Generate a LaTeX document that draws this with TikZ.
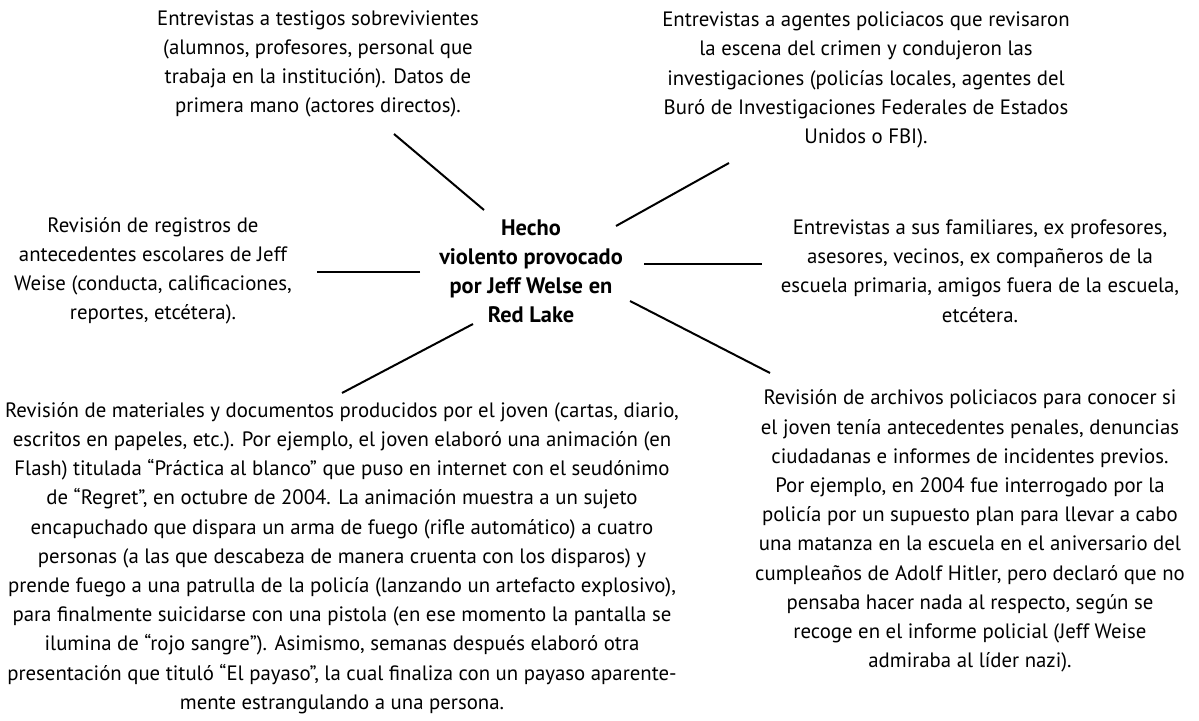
\documentclass[tikz,border=0pt]{standalone}
\usepackage{fontspec}
\setmainfont{PT Sans}
\usetikzlibrary{positioning,calc}

\begin{document}
\begin{tikzpicture}[
    x=0.5pt, y=-0.5pt,
    idea/.style={
        align=center,
        inner sep=0pt,
        font=\fontsize{10.4}{14.6}\selectfont
    },
    hub/.style={
        idea,
        font=\fontsize{11.2}{14.5}\selectfont\bfseries
    },
    spoke/.style={
        line width=1pt
    }
]
\useasboundingbox (0,0) rectangle (1199,721);

\node[hub] (hecho) at (531,271)
{Hecho\\violento provocado\\por Jeff Welse en\\Red Lake};

\node[idea] (testigos) at (318,64)
{Entrevistas a testigos sobrevivientes\\
(alumnos, profesores, personal que\\
trabaja en la institución). Datos de\\
primera mano (actores directos).};

\node[idea] (policias) at (866,80)
{Entrevistas a agentes policiacos que revisaron\\
la escena del crimen y condujeron las\\
investigaciones (policías locales, agentes del\\
Buró de Investigaciones Federales de Estados\\
Unidos o FBI).};

\node[idea] (registros) at (153,271)
{Revisión de registros de\\
antecedentes escolares de Jeff\\
Weise (conducta, calificaciones,\\
reportes, etcétera).};

\node[idea] (familiares) at (980,271)
{Entrevistas a sus familiares, ex profesores,\\
asesores, vecinos, ex compañeros de la\\
escuela primaria, amigos fuera de la escuela,\\
etcétera.};

\node[idea] (materiales) at (342,558)
{Revisión de materiales y documentos producidos por el joven (cartas, diario,\\
escritos en papeles, etc.). Por ejemplo, el joven elaboró una animación (en\\
Flash) titulada “Práctica al blanco” que puso en internet con el seudónimo\\
de “Regret”, en octubre de 2004. La animación muestra a un sujeto\\
encapuchado que dispara un arma de fuego (rifle automático) a cuatro\\
personas (a las que descabeza de manera cruenta con los disparos) y\\
prende fuego a una patrulla de la policía (lanzando un artefacto explosivo),\\
para finalmente suicidarse con una pistola (en ese momento la pantalla se\\
ilumina de “rojo sangre”). Asimismo, semanas después elaboró otra\\
presentación que tituló “El payaso”, la cual finaliza con un payaso aparente-\\
mente estrangulando a una persona.};

\node[idea] (archivos) at (970,531)
{Revisión de archivos policiacos para conocer si\\
el joven tenía antecedentes penales, denuncias\\
ciudadanas e informes de incidentes previos.\\
Por ejemplo, en 2004 fue interrogado por la\\
policía por un supuesto plan para llevar a cabo\\
una matanza en la escuela en el aniversario del\\
cumpleaños de Adolf Hitler, pero declaró que no\\
pensaba hacer nada al respecto, según se\\
recoge en el informe policial (Jeff Weise\\
admiraba al líder nazi).};

% spokes from the central event
\draw[spoke] ([shift={(-47,-61)}]hecho.center) -- ([shift={(76,70)}]testigos.center);
\draw[spoke] ([shift={(85,-45)}]hecho.center) -- ([shift={(-137,83)}]policias.center);
\draw[spoke] ([shift={(-111,1)}]hecho.center) -- ([shift={(164,1)}]registros.center);
\draw[spoke] ([shift={(113,-7)}]hecho.center) -- ([shift={(-218,-7)}]familiares.center);
\draw[spoke] ([shift={(-58,53)}]hecho.center) -- ([shift={(0,-165)}]materiales.center);
\draw[spoke] ([shift={(99,30)}]hecho.center) -- ([shift={(-200,-158)}]archivos.center);

\end{tikzpicture}
\end{document}
